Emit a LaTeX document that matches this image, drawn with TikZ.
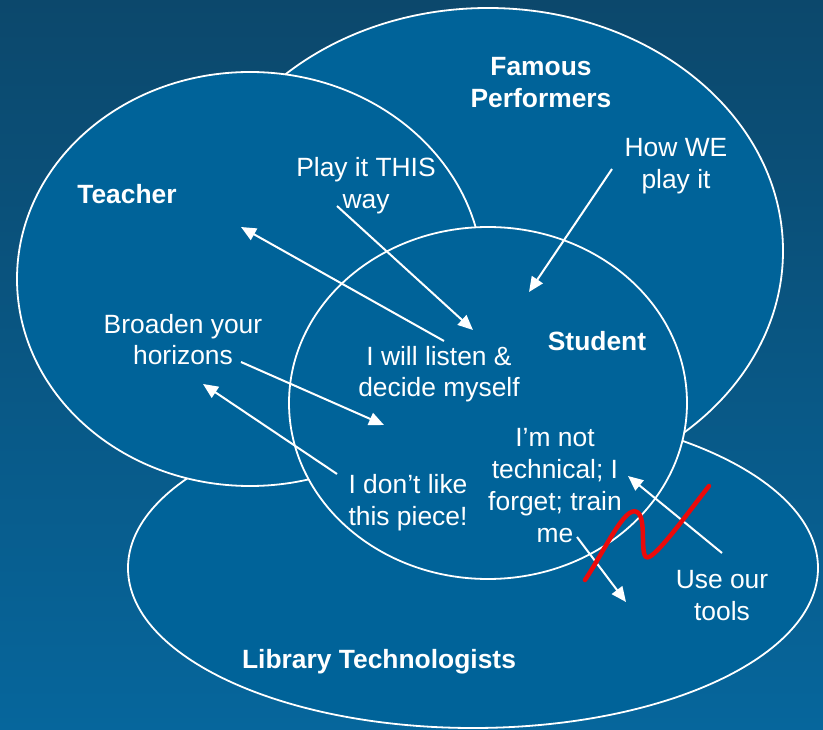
\documentclass[tikz,border=0pt]{standalone}
\usepackage{fontspec}
\setmainfont{Liberation Sans}
\usetikzlibrary{arrows.meta,shapes.geometric}
\definecolor{bgtop}{RGB}{12,72,108}
\definecolor{bgbot}{RGB}{6,102,156}
\definecolor{ellfill}{RGB}{0,99,153}
\definecolor{squig}{RGB}{235,10,10}
\tikzset{
  venn/.style={ellipse, draw=white, line width=1.8pt, fill=ellfill, inner sep=0pt},
  lbl/.style={text=white, align=center, inner sep=0pt, anchor=base,
              font=\fontsize{26.4}{32}\selectfont},
  title/.style={lbl, font=\fontsize{26.4}{32}\selectfont\bfseries},
  arr/.style={draw=white, line width=2pt, -{Triangle[length=15pt,width=13pt]}},
}
\begin{document}
\begin{tikzpicture}[x=1pt,y=-1pt]
\useasboundingbox (0,0) rectangle (823,730);
\shade[top color=bgtop, bottom color=bgbot] (0,0) rectangle (823,730);
% ellipses
\node[venn, minimum width=690pt, minimum height=320pt] (library) at (473,568) {};
\node[venn, minimum width=590pt, minimum height=486pt] (famous) at (488,251) {};
\node[venn, minimum width=466pt, minimum height=414pt] (teacher) at (250,279) {};
\node[venn, minimum width=398pt, minimum height=352pt] (student) at (488,403) {};
% titles (anchor = baseline of last line)
\node[title] (tfamous) at (541,108) {Famous\\Performers};
\node[title] (tteacher) at (127,204) {Teacher};
\node[title] (tstudent) at (597,351) {Student};
\node[title] (tlibrary) at (379,668) {Library Technologists};
% texts
\node[lbl] (play) at (366,209) {Play it THIS\\way};
\node[lbl] (howwe) at (676,189) {How WE\\play it};
\node[lbl] (broaden) at (183,365) {Broaden your\\horizons};
\node[lbl] (listen) at (439,397) {I will listen \&\\decide myself};
\node[lbl] (dislike) at (408,525) {I don’t like\\this piece!};
\node[lbl] (nottech) at (555,542) {I’m not\\technical; I\\forget; train\\me};
\node[lbl] (tools) at (722,620) {Use our\\tools};
% arrow end points
\coordinate (a1s) at (444,341); \coordinate (a1e) at (241,227);
\coordinate (a2s) at (337,206); \coordinate (a2e) at (473,330);
\coordinate (a3s) at (241,362); \coordinate (a3e) at (384,425);
\coordinate (a4s) at (337,474); \coordinate (a4e) at (203,384);
\coordinate (a5s) at (612,169); \coordinate (a5e) at (529,292);
\coordinate (a6s) at (577,537); \coordinate (a6e) at (626,602);
\coordinate (a7s) at (722,553); \coordinate (a7e) at (628,476);
\draw[arr] (a1s) -- (a1e);
\draw[arr] (a2s) -- (a2e);
\draw[arr] (a3s) -- (a3e);
\draw[arr] (a4s) -- (a4e);
\draw[arr] (a5s) -- (a5e);
\draw[arr] (a6s) -- (a6e);
\draw[arr] (a7s) -- (a7e);
% red squiggle
\coordinate (r0) at (585,580);
\coordinate (r1) at (637,512);
\coordinate (r2) at (649,557);
\coordinate (r3) at (709,486);
\draw[squig, line width=4.5pt, line cap=round, line join=round]
  (r0) .. controls (605,550) and (625,505) .. (r1)
       .. controls (648,518) and (638,562) .. (r2)
       .. controls (660,552) and (690,510) .. (r3);
\end{tikzpicture}
\end{document}
